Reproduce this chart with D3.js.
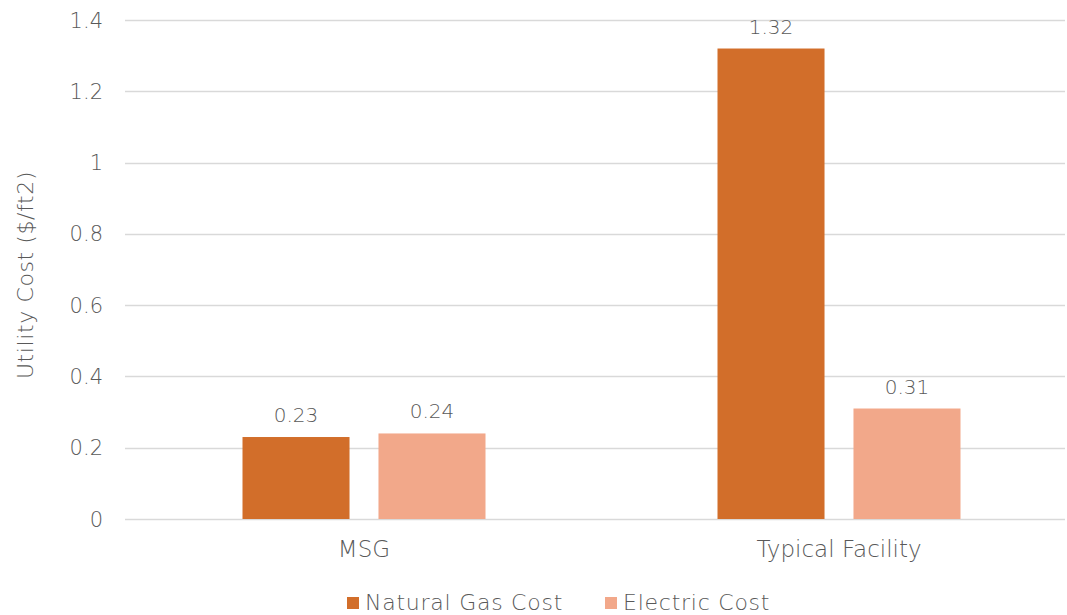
<!DOCTYPE html>
<html><head><meta charset="utf-8">
<script src="https://cdn.jsdelivr.net/npm/d3@7"></script>
<style>body{margin:0;background:#fff}svg{display:block}text{font-family:"DejaVu Sans",sans-serif;font-weight:300;fill:#595959}</style>
</head><body>
<svg id="c" width="1067" height="615"></svg>
<script>
const categories = ["MSG", "Typical Facility"];
const seriesNames = ["Natural Gas Cost", "Electric Cost"];
const naturalGas = [0.23, 1.32];
const electric = [0.24, 0.31];
const yTicks = [0, 0.2, 0.4, 0.6, 0.8, 1, 1.2, 1.4];
const colors = ["#D26E2A", "#F2A88A"];

const svg = d3.select("#c");
const y = d3.scaleLinear().domain([0, 1.4]).range([519, 20]);
const x0 = d3.scaleBand().domain(categories).range([126.5, 1076.5]).paddingInner(0).paddingOuter(0);
const groupW = 243;
const x1 = d3.scaleBand().domain(seriesNames).range([0, groupW]).paddingInner(0.213).paddingOuter(0);

// gridlines
svg.append("g").selectAll("line").data(yTicks).join("line")
  .attr("x1", 125).attr("x2", 1065)
  .attr("y1", d => Math.round(y(d)) + 0.5).attr("y2", d => Math.round(y(d)) + 0.5)
  .attr("stroke", "#d9d9d9").attr("stroke-width", 1.3);

// y axis labels
svg.append("g").selectAll("text").data(yTicks).join("text")
  .attr("x", 103).attr("y", d => y(d)).attr("dy", "0.36em")
  .attr("text-anchor", "end").attr("font-size", 21)
  .text(d => d3.format("~g")(d));

// axis title
svg.append("text").attr("transform", "translate(33,275) rotate(-90)")
  .attr("text-anchor", "middle").attr("font-size", 22).attr("letter-spacing", 0.6).text("Utility Cost ($/ft2)");

const data = categories.map((c, i) => ({cat: c, vals: [naturalGas[i], electric[i]]}));
const g = svg.append("g").selectAll("g").data(data).join("g")
  .attr("transform", d => `translate(${x0(d.cat) + (x0.bandwidth() - groupW) / 2},0)`);
g.selectAll("rect").data(d => d.vals.map((v, j) => ({s: seriesNames[j], v, j}))).join("rect")
  .attr("x", d => x1(d.s)).attr("width", x1.bandwidth())
  .attr("y", d => y(d.v)).attr("height", d => y(0) - y(d.v))
  .attr("fill", d => colors[d.j]);
g.selectAll("text").data(d => d.vals.map((v, j) => ({s: seriesNames[j], v, j}))).join("text")
  .attr("x", d => x1(d.s) + x1.bandwidth() / 2).attr("y", d => y(d.v) - 15)
  .attr("text-anchor", "middle").attr("font-size", 20).text(d => d.v.toFixed(2));

// category labels
svg.append("g").selectAll("text").data(categories).join("text")
  .attr("x", d => x0(d) + x0.bandwidth() / 2).attr("y", 557)
  .attr("text-anchor", "middle").attr("font-size", 23).text(d => d);

// legend
const legX = [347, 605];
const lg = svg.append("g").selectAll("g").data(seriesNames).join("g")
  .attr("transform", (d, i) => `translate(${legX[i]},0)`);
lg.append("rect").attr("x", 0).attr("y", 597).attr("width", 12).attr("height", 12).attr("fill", (d, i) => colors[i]);
lg.append("text").attr("x", 18).attr("y", 610).attr("font-size", 22).attr("letter-spacing", 0.75).text(d => d);
</script>
</body></html>
